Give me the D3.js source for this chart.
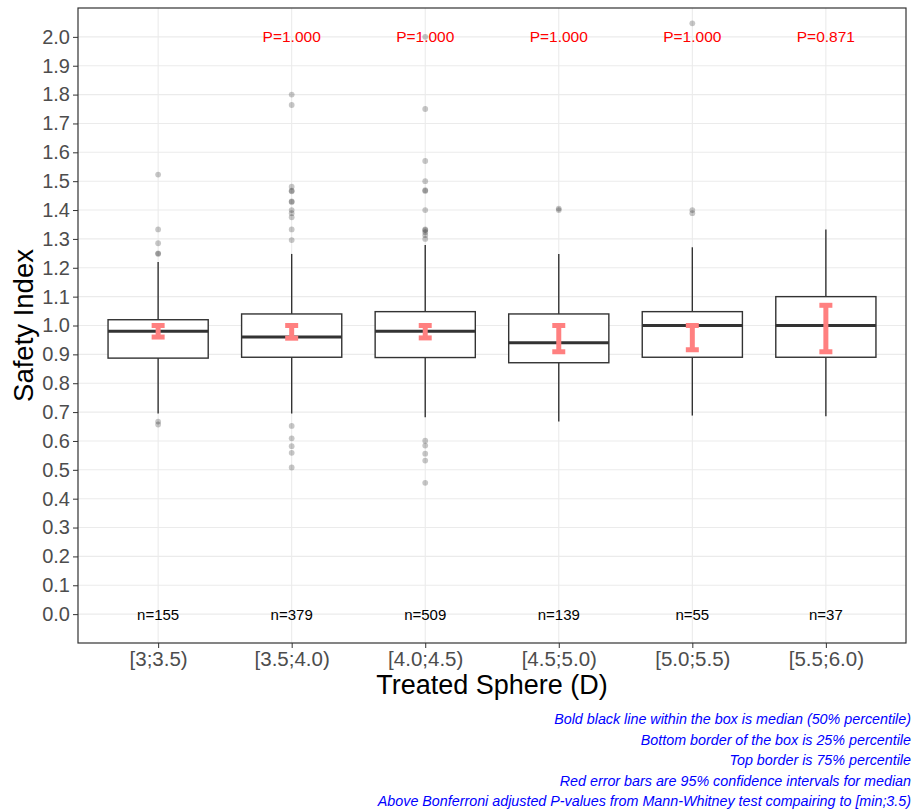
<!DOCTYPE html>
<html>
<head>
<meta charset="utf-8">
<script src="https://cdn.jsdelivr.net/npm/d3@7"></script>
<style>
  html, body { margin: 0; padding: 0; background: #fff; }
  svg { display: block; font-family: "Liberation Sans", Arial, sans-serif; }
</style>
</head>
<body>
<svg id="chart" width="912" height="811"></svg>
<script>
// ---- data ----
const categories = ["[3;3.5)", "[3.5;4.0)", "[4.0;4.5)", "[4.5;5.0)", "[5.0;5.5)", "[5.5;6.0)"];
const q1 = [0.887, 0.890, 0.889, 0.871, 0.890, 0.890];
const medians = [0.98, 0.96, 0.98, 0.94, 1.00, 1.00];
const q3 = [1.020, 1.040, 1.048, 1.040, 1.048, 1.100];
const whiskerLow = [0.695, 0.695, 0.682, 0.667, 0.688, 0.686];
const whiskerHigh = [1.220, 1.248, 1.279, 1.248, 1.271, 1.333];
const ciLow = [0.960, 0.956, 0.957, 0.909, 0.916, 0.909];
const ciHigh = [1.000, 1.000, 1.000, 1.000, 1.000, 1.070];
const counts = [155, 379, 509, 139, 55, 37];
const pValues = [null, "1.000", "1.000", "1.000", "1.000", "0.871"];
const outliers = [
  [1.523, 1.333, 1.285, 1.250, 1.248, 0.667, 0.657],
  [1.800, 1.764, 1.481, 1.467, 1.465, 1.430, 1.428, 1.400, 1.389, 1.375, 1.333, 1.296, 0.652, 0.609, 0.582, 0.559, 0.508],
  [2.000, 1.750, 1.570, 1.500, 1.469, 1.466, 1.400, 1.333, 1.330, 1.323, 1.313, 1.300, 0.601, 0.584, 0.556, 0.532, 0.455],
  [1.405, 1.400],
  [2.047, 1.400, 1.389],
  []
];
const yTicks = d3.range(0, 21).map(i => i / 10);
const xTitle = "Treated Sphere (D)";
const yTitle = "Safety Index";
const captionLines = [
  "Bold black line within the box is median (50% percentile)",
  "Bottom border of the box is 25% percentile",
  "Top border is 75% percentile",
  "Red error bars are 95% confidence intervals for median",
  "Above Bonferroni adjusted P-values from Mann-Whitney test compairing to [min;3.5)"
];

// ---- layout ----
const svg = d3.select("#chart");
const panel = { left: 78, right: 906, top: 8, bottom: 643 };

const x = d3.scalePoint().domain(categories).range([panel.left, panel.right]).padding(0.6);
const y = d3.scaleLinear().domain([-0.1, 2.1]).range([panel.bottom, panel.top]);
const boxW = x.step() * 0.75;

svg.append("rect").attr("width", 912).attr("height", 811).attr("fill", "#fff");

// grid
const grid = svg.append("g");
grid.selectAll("line.h").data(yTicks).join("line")
  .attr("x1", panel.left).attr("x2", panel.right)
  .attr("y1", d => y(d)).attr("y2", d => y(d))
  .attr("stroke", "#EBEBEB").attr("stroke-width", 1.1);
grid.selectAll("line.v").data(categories).join("line")
  .attr("x1", d => x(d)).attr("x2", d => x(d))
  .attr("y1", panel.top).attr("y2", panel.bottom)
  .attr("stroke", "#EBEBEB").attr("stroke-width", 1.1);

const data = categories.map((c, i) => ({
  c, i, q1: q1[i], med: medians[i], q3: q3[i], lo: whiskerLow[i], hi: whiskerHigh[i],
  ciL: ciLow[i], ciH: ciHigh[i], n: counts[i], p: pValues[i], out: outliers[i]
}));

const g = svg.append("g");
// whiskers
g.selectAll("line.wu").data(data).join("line")
  .attr("x1", d => x(d.c)).attr("x2", d => x(d.c))
  .attr("y1", d => y(d.q3)).attr("y2", d => y(d.hi))
  .attr("stroke", "#333").attr("stroke-width", 1.4);
g.selectAll("line.wl").data(data).join("line")
  .attr("x1", d => x(d.c)).attr("x2", d => x(d.c))
  .attr("y1", d => y(d.q1)).attr("y2", d => y(d.lo))
  .attr("stroke", "#333").attr("stroke-width", 1.4);
// box
g.selectAll("rect.box").data(data).join("rect")
  .attr("x", d => x(d.c) - boxW / 2).attr("width", boxW)
  .attr("y", d => y(d.q3)).attr("height", d => y(d.q1) - y(d.q3))
  .attr("fill", "#fff").attr("stroke", "#333").attr("stroke-width", 1.4);
// median
g.selectAll("line.med").data(data).join("line")
  .attr("x1", d => x(d.c) - boxW / 2).attr("x2", d => x(d.c) + boxW / 2)
  .attr("y1", d => y(d.med)).attr("y2", d => y(d.med))
  .attr("stroke", "#333").attr("stroke-width", 3);

// outliers
const pts = [];
data.forEach(d => d.out.forEach(v => pts.push({ c: d.c, v })));
g.selectAll("circle").data(pts).join("circle")
  .attr("cx", d => x(d.c)).attr("cy", d => y(d.v)).attr("r", 2.9)
  .attr("fill", "#000").attr("fill-opacity", 0.22);

// CI error bars
const ciW = 13;
const eb = g.append("g").attr("stroke", "#FF8080").attr("stroke-width", 5).attr("fill", "none");
eb.selectAll("line.cv").data(data).join("line")
  .attr("x1", d => x(d.c)).attr("x2", d => x(d.c))
  .attr("y1", d => y(d.ciH)).attr("y2", d => y(d.ciL));
eb.selectAll("line.ct").data(data).join("line")
  .attr("x1", d => x(d.c) - ciW / 2).attr("x2", d => x(d.c) + ciW / 2)
  .attr("y1", d => y(d.ciH)).attr("y2", d => y(d.ciH));
eb.selectAll("line.cb").data(data).join("line")
  .attr("x1", d => x(d.c) - ciW / 2).attr("x2", d => x(d.c) + ciW / 2)
  .attr("y1", d => y(d.ciL)).attr("y2", d => y(d.ciL));

// P labels
g.selectAll("text.p").data(data.filter(d => d.p)).join("text")
  .attr("x", d => x(d.c)).attr("y", y(2.0)).attr("dy", "0.36em")
  .attr("text-anchor", "middle").attr("fill", "#FF0000").attr("font-size", 15.5)
  .text(d => "P=" + d.p);
// n labels
g.selectAll("text.n").data(data).join("text")
  .attr("x", d => x(d.c)).attr("y", y(0)).attr("dy", "0.36em")
  .attr("text-anchor", "middle").attr("fill", "#000").attr("font-size", 15)
  .text(d => "n=" + d.n);

// panel border
svg.append("rect")
  .attr("x", panel.left).attr("y", panel.top)
  .attr("width", panel.right - panel.left).attr("height", panel.bottom - panel.top)
  .attr("fill", "none").attr("stroke", "#333").attr("stroke-width", 1.2);

// axes
const yAxis = svg.append("g").attr("transform", `translate(${panel.left},0)`)
  .call(d3.axisLeft(y).tickValues(yTicks).tickFormat(d3.format(".1f")).tickSize(5).tickPadding(3));
yAxis.select(".domain").remove();
yAxis.selectAll(".tick line").attr("stroke", "#333");
yAxis.selectAll(".tick text").attr("fill", "#4D4D4D").attr("font-size", 20)
  .attr("font-family", "Liberation Sans, Arial, sans-serif");

const xAxis = svg.append("g").attr("transform", `translate(0,${panel.bottom})`)
  .call(d3.axisBottom(x).tickSize(5).tickPadding(3));
xAxis.select(".domain").remove();
xAxis.selectAll(".tick line").attr("stroke", "#333");
xAxis.selectAll(".tick text").attr("fill", "#4D4D4D").attr("font-size", 20.5)
  .attr("font-family", "Liberation Sans, Arial, sans-serif");

// titles
svg.append("text").attr("x", (panel.left + panel.right) / 2).attr("y", 694)
  .attr("text-anchor", "middle").attr("font-size", 27).attr("fill", "#000").text(xTitle);
svg.append("text").attr("transform", `translate(33,${(panel.top + panel.bottom) / 2}) rotate(-90)`)
  .attr("text-anchor", "middle").attr("font-size", 27.5).attr("fill", "#000").text(yTitle);

// caption (right-aligned at the right edge)
svg.append("g").selectAll("text").data(captionLines).join("text")
  .attr("x", 911).attr("y", (d, i) => 724 + i * 20.6)
  .attr("text-anchor", "end").attr("font-size", 14.3).attr("font-style", "italic")
  .attr("fill", "#0000FF").text(d => d);
</script>
</body>
</html>
